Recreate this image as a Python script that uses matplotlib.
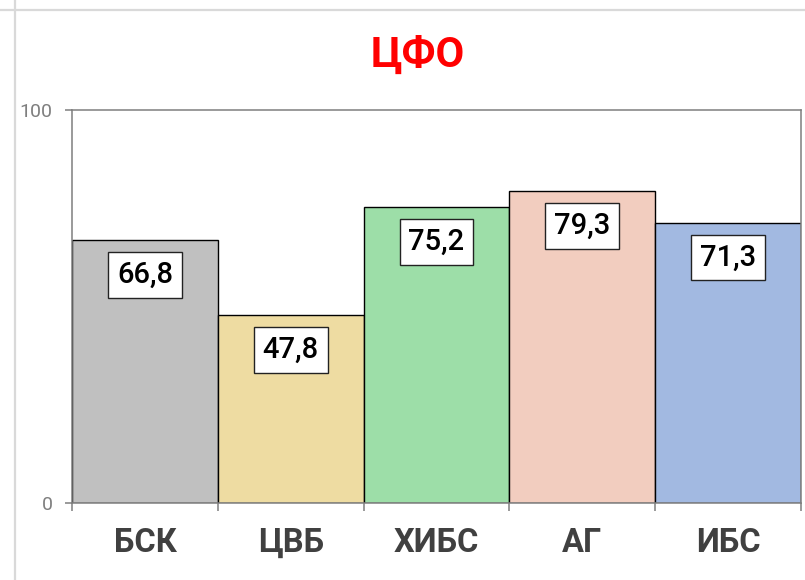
import numpy as np
import matplotlib
matplotlib.use("Agg")
import matplotlib.pyplot as plt
from matplotlib.lines import Line2D

# data
categories = ["БСК", "ЦВБ", "ХИБС", "АГ", "ИБС"]
values = [66.8, 47.8, 75.2, 79.3, 71.3]
value_labels = ["66,8", "47,8", "75,2", "79,3", "71,3"]
bar_colors = ["#c0c0c0", "#eedca2", "#9ddea8", "#f2cdbf", "#a2b9e1"]
title = "ЦФО"

plt.rcParams['font.family'] = ['Roboto', 'DejaVu Sans']

fig = plt.figure(figsize=(8.05, 5.8), dpi=100)
ax = fig.add_axes([72/805, 1-503/580, (801-72)/805, (503-110)/580])

# excel cell lines in background
fig.add_artist(Line2D([0, 1], [1-10/580, 1-10/580], color="#d9d9d9", lw=1.6, transform=fig.transFigure))
fig.add_artist(Line2D([15/805, 15/805], [0, 1], color="#d9d9d9", lw=1.6, transform=fig.transFigure))

x = np.arange(len(categories))
bars = ax.bar(x, values, width=1.0, color=bar_colors, edgecolor="black", linewidth=1.0, zorder=2)

for b, lab in zip(bars, value_labels):
    ax.annotate(lab, (b.get_x() + b.get_width()/2, b.get_height()),
                xytext=(0, -25), textcoords="offset points",
                ha="center", va="center", fontsize=21, fontweight="medium",
                color="black", zorder=3,
                bbox=dict(boxstyle="square,pad=0.3", fc="white", ec="#222222", lw=1.0))

ax.set_xlim(-0.5, len(categories) - 0.5)
ax.set_ylim(0, 100)
ax.set_yticks([0, 100])
ax.tick_params(axis="y", length=5, width=1.1, color="#7f7f7f", labelcolor="#7f7f7f",
               labelsize=14, pad=9)

ax.set_xticks(x)
ax.set_xticklabels(categories, fontsize=23.5, fontweight="bold", color="#404040")
ax.tick_params(axis="x", which="major", length=0, pad=17)
ax.set_xticks(np.arange(len(categories) + 1) - 0.5, minor=True)
ax.tick_params(axis="x", which="minor", length=6, width=1.1, color="#7f7f7f")

for s in ax.spines.values():
    s.set_color("#7f7f7f")
    s.set_linewidth(1.1)

fig.text(418/805, 1-55/580, title, color="#ff0000", fontsize=30, fontweight="bold",
         ha="center", va="center")

fig.savefig("out.png", dpi=100)
